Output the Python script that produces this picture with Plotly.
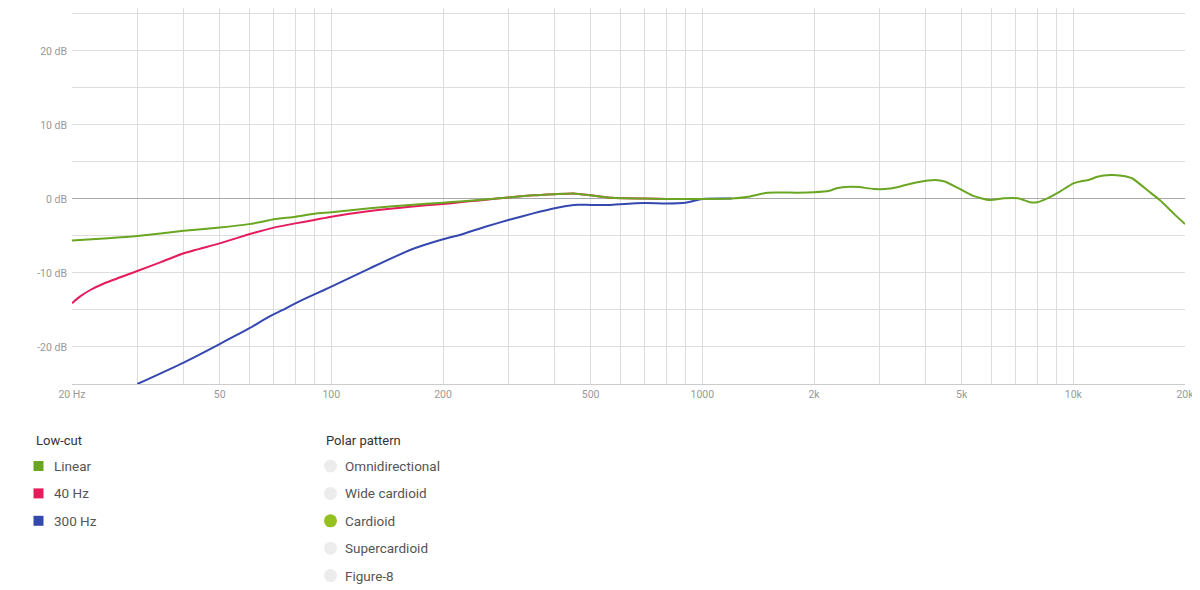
import plotly.graph_objects as go

# ---------------- data ----------------
linear_freq = [20, 25, 30, 40, 50, 60, 64, 70, 80, 90, 100, 127, 163, 200, 222, 250, 300, 350, 400,
               450, 500, 570, 700, 800, 1000, 1200, 1330, 1500, 1800, 2000, 2200, 2300, 2500,
               2650, 2900, 3200, 3450, 3800, 4250, 4500, 4900, 5350, 5950, 6500, 7100, 7650,
               8000, 8450, 9200, 10000, 10500, 11000, 11600, 12600, 13500, 14400, 16000, 17100,
               18800, 20000]
linear_db = [-5.6, -5.3, -5.0, -4.3, -3.87, -3.4, -3.15, -2.75, -2.4, -2.0, -1.8, -1.26, -0.8,
             -0.5, -0.35, -0.15, 0.2, 0.5, 0.65, 0.75, 0.5, 0.15, 0.05, 0.0, 0.0, 0.05, 0.3,
             0.85, 0.85, 0.9, 1.1, 1.45, 1.65, 1.6, 1.35, 1.4, 1.75, 2.25, 2.55, 2.35, 1.45,
             0.45, -0.15, 0.1, 0.1, -0.45, -0.45, 0.0, 1.0, 2.1, 2.4, 2.55, 3.0, 3.25, 3.15,
             2.8, 1.0, -0.15, -2.15, -3.4]

hz40_freq = [20, 21, 22.4, 24.3, 30, 35, 40, 50, 60, 70, 80, 90, 100, 127, 163, 200, 222, 250,
             280, 300, 350, 400, 450, 500, 570, 700, 800, 1000]
hz40_db = [-14.1, -13.2, -12.3, -11.45, -9.73, -8.47, -7.34, -6.0, -4.77, -3.87, -3.3, -2.84,
           -2.39, -1.62, -1.04, -0.68, -0.45, -0.2, 0.05, 0.2, 0.5, 0.65, 0.75, 0.5, 0.15, 0.05,
           0.0, 0.0]

hz300_freq = [30, 40, 50, 60, 68, 74, 80, 90, 100, 127, 163, 200, 222, 260, 300, 350, 400, 450,
              500, 560, 600, 700, 800, 900, 1000, 1200]
hz300_db = [-25.0, -22.1, -19.6, -17.5, -15.9, -15.0, -14.1, -12.9, -11.85, -9.37, -6.9, -5.45,
            -4.86, -3.75, -2.85, -1.95, -1.25, -0.8, -0.8, -0.8, -0.7, -0.55, -0.6, -0.5, 0.0,
            0.05]

series_names = ["Linear", "40 Hz", "300 Hz"]
series_colors = ["#6aa622", "#e51c5c", "#3548b0"]

polar_patterns = ["Omnidirectional", "Wide cardioid", "Cardioid", "Supercardioid", "Figure-8"]
polar_selected = "Cardioid"

x_tick_vals = [20, 50, 100, 200, 500, 1000, 2000, 5000, 10000, 20000]
x_tick_text = ["20 Hz", "50", "100", "200", "500", "1000", "2k", "5k", "10k", "20k"]
x_minor_vals = [30, 40, 60, 70, 80, 90, 300, 400, 600, 700, 800, 900,
                3000, 4000, 6000, 7000, 8000, 9000]
y_tick_vals = [-20, -10, 0, 10, 20]
y_tick_text = ["-20 dB", "-10 dB", "0 dB", "10 dB", "20 dB"]
y_minor_vals = [-25, -15, -5, 5, 15, 25]

# ---------------- figure ----------------
# page body has an 8px margin; figure sized to fit the 1200x590 window
FIG_W, FIG_H = 1192, 582
M_L, M_R, M_T, M_B = 64, 15, 0, 206

fig = go.Figure()
curves = [(hz300_freq, hz300_db), (hz40_freq, hz40_db), (linear_freq, linear_db)]
order = [2, 1, 0]
for (fx, fy), idx in zip(curves, order):
    fig.add_trace(go.Scatter(
        x=fx, y=fy, mode="lines", name=series_names[idx],
        line=dict(color=series_colors[idx], width=2, shape="spline", smoothing=0.5),
        showlegend=False, cliponaxis=True))

grid_col = "#dedede"
fig.update_layout(
    width=FIG_W, height=FIG_H,
    margin=dict(l=M_L, r=M_R, t=M_T, b=M_B, autoexpand=False),
    plot_bgcolor="white", paper_bgcolor="white",
    font=dict(family="Roboto, Arial, sans-serif", color="#999999", size=10),
    xaxis=dict(
        type="log", range=[1.30103, 4.30103],
        tickmode="array", tickvals=x_tick_vals, ticktext=x_tick_text,
        showgrid=True, gridcolor=grid_col, gridwidth=1,
        minor=dict(tickmode="array", tickvals=x_minor_vals, showgrid=True,
                   gridcolor=grid_col, gridwidth=1, ticklen=0),
        ticks="", showline=True, linecolor="#cccccc", linewidth=1,
        zeroline=False, tickfont=dict(size=10.5, color="#999999"),
        fixedrange=True, automargin=False,
    ),
    yaxis=dict(
        range=[-25, 25.8],
        tickmode="array", tickvals=y_tick_vals, ticktext=y_tick_text,
        showgrid=True, gridcolor=grid_col, gridwidth=1,
        minor=dict(tickmode="array", tickvals=y_minor_vals, showgrid=True,
                   gridcolor=grid_col, gridwidth=1, ticklen=0),
        ticks="", showline=False, zeroline=True, zerolinecolor="#a8a8a8",
        zerolinewidth=1, tickfont=dict(size=10.5, color="#999999"),
        ticklabelstandoff=4, fixedrange=True, automargin=False,
    ),
)

# ---------------- custom legends below the chart ----------------
plot_w = FIG_W - M_L - M_R
plot_h = FIG_H - M_T - M_B
PAGE_OFF = 8  # body margin


def px_to_paper(px, py):
    fx, fy = px - PAGE_OFF, py - PAGE_OFF
    return (fx - M_L) / plot_w, (FIG_H - M_B - fy) / plot_h


annotations = []
shapes = []

# Low-cut group
tx, ty = px_to_paper(34, 440)
annotations.append(dict(x=tx, y=ty, xref="paper", yref="paper", text="Low-cut",
                        showarrow=False, xanchor="left", yanchor="middle",
                        font=dict(size=13, color="#333333")))
for i, (name, col) in enumerate(zip(series_names, series_colors)):
    cy = 466 + i * 27.4
    ax, ay = px_to_paper(38.5, cy)
    shapes.append(dict(type="rect", xref="paper", yref="paper", xsizemode="pixel",
                       ysizemode="pixel", xanchor=ax, yanchor=ay, x0=-5, x1=5, y0=-5, y1=5,
                       fillcolor=col, line=dict(width=0)))
    lx, ly = px_to_paper(52, cy)
    annotations.append(dict(x=lx, y=ly, xref="paper", yref="paper", text=name,
                            showarrow=False, xanchor="left", yanchor="middle",
                            font=dict(size=13.5, color="#555555")))

# Polar pattern group
tx, ty = px_to_paper(324, 440)
annotations.append(dict(x=tx, y=ty, xref="paper", yref="paper", text="Polar pattern",
                        showarrow=False, xanchor="left", yanchor="middle",
                        font=dict(size=13, color="#333333")))
for i, name in enumerate(polar_patterns):
    cy = 466 + i * 27.4
    ax, ay = px_to_paper(330.5, cy)
    col = "#95c11f" if name == polar_selected else "#ececec"
    shapes.append(dict(type="circle", xref="paper", yref="paper", xsizemode="pixel",
                       ysizemode="pixel", xanchor=ax, yanchor=ay, x0=-6.5, x1=6.5, y0=-6.5,
                       y1=6.5, fillcolor=col, line=dict(width=0)))
    lx, ly = px_to_paper(343, cy)
    annotations.append(dict(x=lx, y=ly, xref="paper", yref="paper", text=name,
                            showarrow=False, xanchor="left", yanchor="middle",
                            font=dict(size=13.5, color="#555555")))

fig.update_layout(annotations=annotations, shapes=shapes)

fig.write_html("out.html")
